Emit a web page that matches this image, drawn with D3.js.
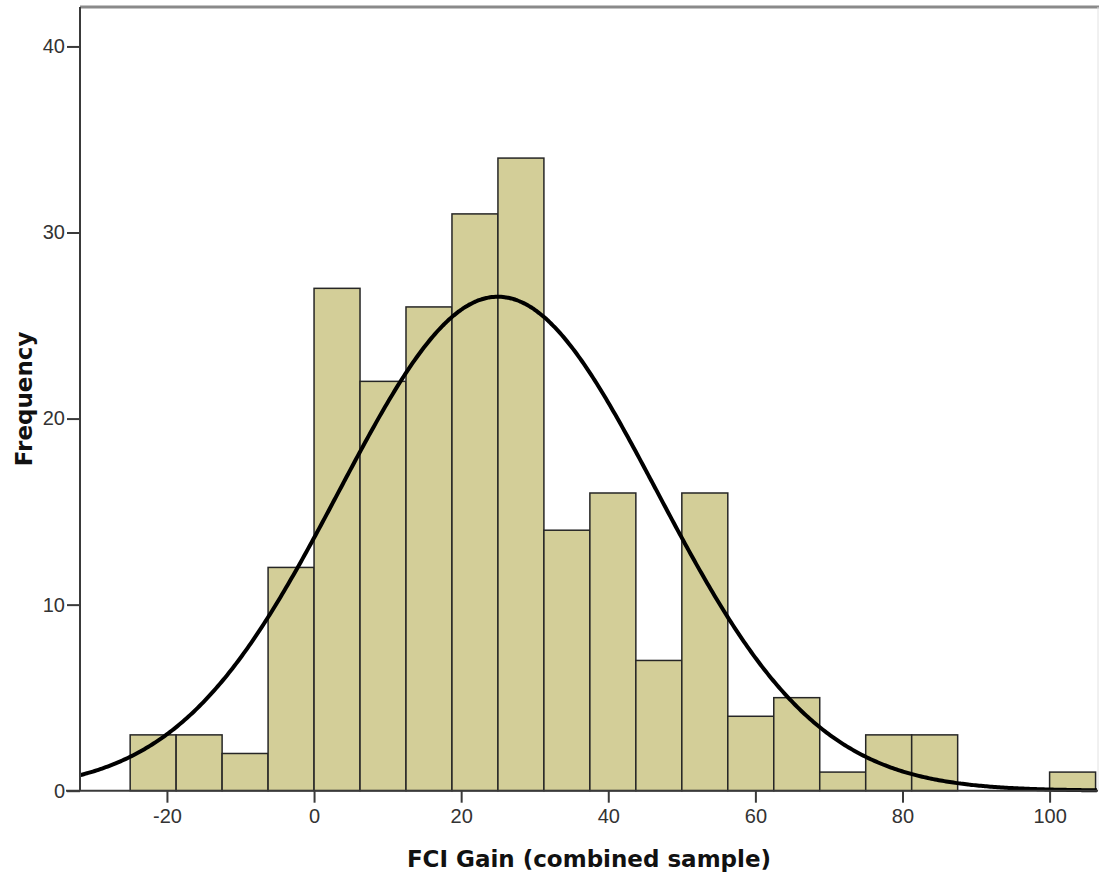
<!DOCTYPE html>
<html>
<head>
<meta charset="utf-8">
<script src="https://cdn.jsdelivr.net/npm/d3@7"></script>
<style>
  html, body { margin: 0; padding: 0; background: #fff; }
  svg { display: block; }
</style>
</head>
<body>
<svg id="chart" width="1099" height="877"></svg>
<script>
// Histogram of FCI gain with a fitted normal curve
const binStart = -25;
const binWidth = 6.25;
const counts = [3, 3, 2, 12, 27, 22, 26, 31, 34, 14, 16, 7, 16, 4, 5, 1, 3, 3, 0, 0, 1];
const xTicks = [-20, 0, 20, 40, 60, 80, 100];
const yTicks = [0, 10, 20, 30, 40];
const fitMean = 25;
const fitSd = 21.6;
const xDomain = [-31.82, 106.58];
const yDomain = [0, 42.12];

const svg = d3.select("#chart");
const plot = { left: 80, right: 1098, top: 7, bottom: 790.7 };

const x = d3.scaleLinear().domain(xDomain).range([plot.left, plot.right]);
const y = d3.scaleLinear().domain(yDomain).range([plot.bottom, plot.top]);

const bins = counts.map((c, i) => ({
  x0: binStart + i * binWidth,
  x1: binStart + (i + 1) * binWidth,
  count: c
}));

// frame: top rule and faint right edge
svg.append("line")
  .attr("x1", plot.left).attr("x2", 1099)
  .attr("y1", plot.top).attr("y2", plot.top)
  .attr("stroke", "#8a8a8a").attr("stroke-width", 3);
svg.append("line")
  .attr("x1", plot.right).attr("x2", plot.right)
  .attr("y1", plot.top).attr("y2", plot.bottom)
  .attr("stroke", "#e2e2e2").attr("stroke-width", 1);

// bars
svg.append("g").selectAll("rect")
  .data(bins.filter(b => b.count > 0))
  .join("rect")
  .attr("x", d => x(d.x0))
  .attr("y", d => y(d.count))
  .attr("width", d => x(d.x1) - x(d.x0))
  .attr("height", d => y(0) - y(d.count))
  .attr("fill", "#d3ce98")
  .attr("stroke", "#262626")
  .attr("stroke-width", 1.5);

// fitted normal curve scaled to counts
const total = d3.sum(counts);
const normal = v => total * binWidth / (fitSd * Math.sqrt(2 * Math.PI)) *
  Math.exp(-0.5 * Math.pow((v - fitMean) / fitSd, 2));
const curvePts = d3.range(xDomain[0], xDomain[1] + 0.001, 0.25).map(v => [v, normal(v)]);
svg.append("path")
  .datum(curvePts)
  .attr("d", d3.line().x(d => x(d[0])).y(d => y(d[1])).curve(d3.curveBasis))
  .attr("fill", "none")
  .attr("stroke", "#000")
  .attr("stroke-width", 4);

// axes
const fmt = d => String(d);
const xAxis = svg.append("g")
  .attr("transform", `translate(0,${plot.bottom})`)
  .call(d3.axisBottom(x).tickValues(xTicks).tickFormat(fmt).tickSize(12).tickPadding(6).tickSizeOuter(0));
const yAxis = svg.append("g")
  .attr("transform", `translate(${plot.left},0)`)
  .call(d3.axisLeft(y).tickValues(yTicks).tickFormat(fmt).tickSize(13).tickPadding(2).tickSizeOuter(0));

[xAxis, yAxis].forEach(g => {
  g.select(".domain").attr("stroke", "#3a3a3a").attr("stroke-width", 2);
  g.selectAll(".tick line").attr("stroke", "#3a3a3a").attr("stroke-width", 2);
  g.selectAll(".tick text")
    .attr("fill", "#333")
    .style("font-family", "'Liberation Sans', Arial, sans-serif")
    .style("font-size", "20px");
});
// extend y axis line up to the top rule
yAxis.select(".domain").attr("d", `M0,${plot.bottom}V${plot.top}`);
xAxis.select(".domain").attr("d", `M${plot.left - 14},0H${plot.right}`);

// axis titles
svg.append("text")
  .attr("x", (plot.left + plot.right) / 2)
  .attr("y", 867)
  .attr("text-anchor", "middle")
  .style("font-family", "'DejaVu Sans', sans-serif")
  .style("font-weight", "bold")
  .style("font-size", "23px")
  .attr("fill", "#111")
  .text("FCI Gain (combined sample)");

svg.append("text")
  .attr("transform", `translate(31.5,${(plot.top + plot.bottom) / 2}) rotate(-90)`)
  .attr("text-anchor", "middle")
  .style("font-family", "'DejaVu Sans', sans-serif")
  .style("font-weight", "bold")
  .style("font-size", "23px")
  .attr("fill", "#111")
  .text("Frequency");
</script>
</body>
</html>
